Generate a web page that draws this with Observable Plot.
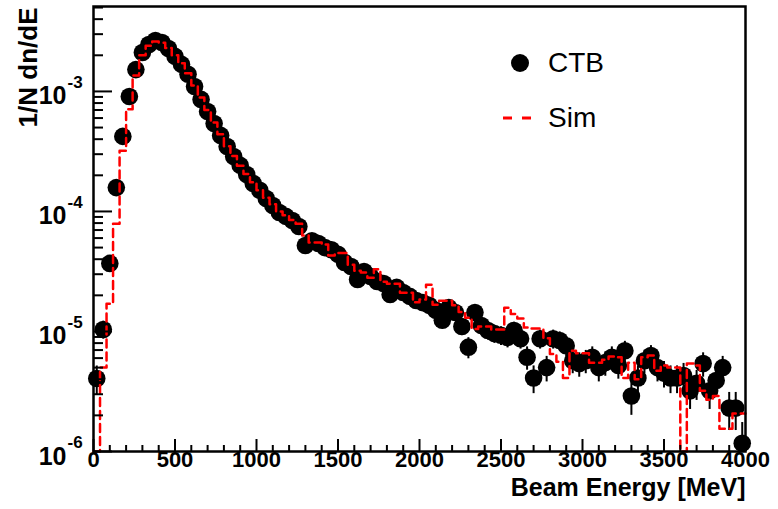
<!DOCTYPE html>
<html><head><meta charset="utf-8">
<script src="https://cdn.jsdelivr.net/npm/d3@7"></script>
<script src="https://cdn.jsdelivr.net/npm/@observablehq/plot@0.6"></script>
<style>
body{margin:0;background:#fff;}
#wrap{position:relative;width:778px;height:509px;font-family:"Liberation Sans",Arial,Helvetica,sans-serif;}
#legend{position:absolute;left:0;top:0;pointer-events:none;}
</style></head><body><div id="wrap"></div>
<script>
// bins of 40 MeV from 0 to 4000
const binWidth = 40;
const ctb = [
4.06e-6, 1.04e-5, 3.69e-5, 1.58e-4, 4.22e-4, 9.08e-4, 1.52e-3, 2.11e-3, 2.46e-3, 2.66e-3,
2.56e-3, 2.28e-3, 1.96e-3, 1.68e-3, 1.39e-3, 1.10e-3, 8.58e-4, 6.81e-4, 5.41e-4, 4.30e-4,
3.48e-4, 2.87e-4, 2.42e-4, 2.03e-4, 1.71e-4, 1.50e-4, 1.28e-4, 1.12e-4, 9.8e-5, 9.1e-5,
8.4e-5, 7.5e-5, 5.2e-5, 5.7e-5, 5.4e-5, 5.0e-5, 4.8e-5, 4.4e-5, 3.76e-5, 3.48e-5,
2.71e-5, 3.16e-5, 2.87e-5, 2.61e-5, 2.51e-5, 2.03e-5, 2.33e-5, 2.11e-5, 1.96e-5, 1.81e-5,
1.74e-5, 1.65e-5, 1.50e-5, 1.24e-5, 1.58e-5, 1.44e-5, 1.10e-5, 7.4e-6, 1.44e-5, 1.12e-5,
1.02e-5, 9.6e-6, 9.3e-6, 8.9e-6, 1.02e-5, 8.7e-6, 6.1e-6, 4.1e-6, 8.7e-6, 5.0e-6,
8.7e-6, 8.4e-6, 7.6e-6, 5.7e-6, 5.4e-6, 5.7e-6, 6.1e-6, 5.0e-6, 5.5e-6, 6.1e-6,
5.2e-6, 6.9e-6, 2.9e-6, 4.1e-6, 5.7e-6, 6.3e-6, 5.0e-6, 4.5e-6, 4.1e-6, 4.1e-6,
4.3e-6, 3.2e-6, 3.7e-6, 5.4e-6, 3.2e-6, 3.9e-6, 5.0e-6, 2.3e-6, 2.3e-6, 1.17e-6
];
// relative statistical errors of the CTB points
const ctbErr = [
0.27,0.17,0.09,0.04,0.03,0.02,0.01,0.01,0.01,0.01,
0.01,0.01,0.01,0.01,0.01,0.02,0.02,0.02,0.02,0.03,
0.03,0.03,0.03,0.04,0.04,0.04,0.05,0.05,0.05,0.06,
0.06,0.06,0.07,0.07,0.07,0.08,0.08,0.08,0.09,0.09,
0.10,0.10,0.10,0.10,0.11,0.12,0.11,0.12,0.12,0.13,
0.13,0.13,0.14,0.15,0.13,0.14,0.16,0.20,0.14,0.16,
0.17,0.17,0.18,0.18,0.17,0.18,0.22,0.26,0.18,0.24,
0.18,0.18,0.19,0.22,0.23,0.22,0.22,0.24,0.23,0.22,
0.23,0.20,0.31,0.26,0.22,0.21,0.24,0.25,0.26,0.26,
0.26,0.30,0.28,0.23,0.30,0.27,0.24,0.35,0.35,0.49
];
const sim = [
0, 5.0e-6, 1.7e-5, 7.9e-5, 3.2e-4, 7.1e-4, 1.36e-3, 2.0e-3, 2.4e-3, 2.6e-3,
2.55e-3, 2.3e-3, 2.0e-3, 1.72e-3, 1.42e-3, 1.12e-3, 8.9e-4, 7.0e-4, 5.5e-4, 4.4e-4,
3.5e-4, 2.9e-4, 2.4e-4, 2.05e-4, 1.75e-4, 1.5e-4, 1.3e-4, 1.15e-4, 1.0e-4, 9.3e-5,
8.5e-5, 7.9e-5, 6.3e-5, 5.5e-5, 5.5e-5, 5.3e-5, 4.3e-5, 4.5e-5, 4.5e-5, 3.6e-5,
3.2e-5, 3.1e-5, 2.8e-5, 3.3e-5, 2.6e-5, 2.5e-5, 2.5e-5, 2.1e-5, 2.1e-5, 1.75e-5,
1.85e-5, 2.45e-5, 1.67e-5, 1.8e-5, 1.8e-5, 1.65e-5, 1.45e-5, 1.3e-5, 1.05e-5, 1.1e-5,
1.1e-5, 1.04e-5, 1.04e-5, 1.58e-5, 1.4e-5, 1.28e-5, 1.08e-5, 1.06e-5, 1.06e-5, 8.8e-6,
6.5e-6, 5.6e-6, 4.1e-6, 6.9e-6, 6.6e-6, 6.6e-6, 5.5e-6, 5.5e-6, 5.8e-6, 6.2e-6,
6.1e-6, 4.1e-6, 5.5e-6, 4.0e-6, 6.1e-6, 6.3e-6, 4.7e-6, 5.2e-6, 5.0e-6, 5.0e-6,
0, 5.4e-6, 5.2e-6, 3.2e-6, 2.7e-6, 2.9e-6, 1.55e-6, 1.55e-6, 2.07e-6, 2.07e-6
];
const xMajorTicks = [0, 500, 1000, 1500, 2000, 2500, 3000, 3500, 4000];
const xMinorTicks = d3.range(0, 4001, 100).filter(v => v % 500 !== 0);
const yDecades = [1e-6, 1e-5, 1e-4, 1e-3];
const yMinorTicks = [1e-6, 1e-5, 1e-4, 1e-3].flatMap(d => [2,3,4,5,6,7,8,9].map(k => k * d)).filter(v => v <= 5.1e-3);
const yDomain = [1e-6, 5.1e-3];
const xTitle = "Beam Energy [MeV]";
const yTitle = "1/N dn/dE";
const legendItems = ["CTB", "Sim"];

const W = 778, H = 509, mL = 93, mR = 33, mT = 6, mB = 58;
const fw = W - mL - mR, fh = H - mT - mB;

const pts = ctb.map((v, i) => ({x: binWidth * i + binWidth / 2, y: v, e: ctbErr[i]}));
const simPts = sim.map((v, i) => ({x: binWidth * i, y: v}));
simPts.push({x: binWidth * sim.length, y: sim[sim.length - 1]});
const floorY = d => Math.max(d, yDomain[0]);

const chart = Plot.plot({
  width: W, height: H,
  marginLeft: mL, marginRight: mR, marginTop: mT, marginBottom: mB,
  style: {fontFamily: '"Liberation Sans", Arial, Helvetica, sans-serif', background: "white"},
  x: {domain: [0, 4000], axis: null},
  y: {type: "log", domain: yDomain, axis: null},
  marks: [
    Plot.ruleX(pts, {x: "x", y1: d => floorY(d.y * (1 - d.e)), y2: d => d.y * (1 + d.e), stroke: "black", strokeWidth: 2}),
    Plot.dot(pts, {x: "x", y: "y", r: 8.8, fill: "black", stroke: "none"}),
    Plot.line(simPts, {x: "x", y: d => floorY(d.y), curve: "step-after", stroke: "#ff0000", strokeWidth: 2.5, strokeDasharray: "8,5"}),
    Plot.tickX(xMajorTicks, {x: d => d, stroke: "black", strokeWidth: 2, insetTop: fh - 12}),
    Plot.tickX(xMinorTicks, {x: d => d, stroke: "black", strokeWidth: 2, insetTop: fh - 6}),
    Plot.tickY(yDecades, {y: d => d, stroke: "black", strokeWidth: 2, insetRight: fw - 19}),
    Plot.tickY(yMinorTicks, {y: d => d, stroke: "black", strokeWidth: 2, insetRight: fw - 10}),
    Plot.frame({stroke: "black", strokeWidth: 2.5}),
    Plot.text(xMajorTicks, {x: d => d, frameAnchor: "bottom", dy: 15, text: d => String(d), fontSize: 22, fontWeight: "bold", fill: "black"}),
    Plot.text(yDecades, {y: d => d, frameAnchor: "left", dx: -27, dy: 5, textAnchor: "end", text: () => "10", fontSize: 25, fontWeight: "bold", fill: "black"}),
    Plot.text(yDecades, {y: d => d, frameAnchor: "left", dx: -26, dy: -9, textAnchor: "start", text: d => String(Math.round(Math.log10(d))), fontSize: 17, fontWeight: "bold", fill: "black"}),
    Plot.text([xTitle], {frameAnchor: "bottom-right", dy: 44, textAnchor: "end", text: d => d, fontSize: 25, fontWeight: "bold", fill: "black"}),
    Plot.text([yTitle], {frameAnchor: "top-left", dx: -75, dy: 1, rotate: -90, textAnchor: "end", text: d => d, fontSize: 26, fontWeight: "bold", fill: "black"})
  ]
});
const wrap = document.getElementById("wrap");
wrap.appendChild(chart);

// legend overlay
const ns = "http://www.w3.org/2000/svg";
const lg = document.createElementNS(ns, "svg");
lg.setAttribute("id", "legend");
lg.setAttribute("width", W); lg.setAttribute("height", H);
lg.innerHTML = `
  <circle cx="520" cy="63" r="9" fill="black"/>
  <text x="548" y="65" dominant-baseline="middle" font-size="28" font-family="Liberation Sans, Arial, sans-serif">${legendItems[0]}</text>
  <line x1="503" y1="118" x2="532" y2="118" stroke="#ff0000" stroke-width="3" stroke-dasharray="9,10"/>
  <text x="548" y="120" dominant-baseline="middle" font-size="28" font-family="Liberation Sans, Arial, sans-serif">${legendItems[1]}</text>`;
wrap.appendChild(lg);
</script>
</body></html>
